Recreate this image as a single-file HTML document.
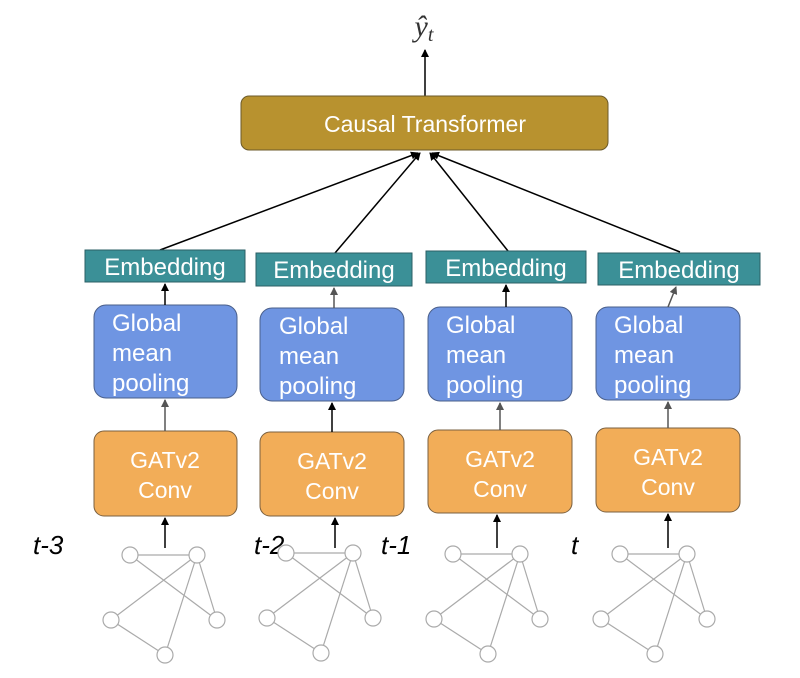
<!DOCTYPE html>
<html><head><style>
html,body{margin:0;padding:0;background:#fff;}
svg{display:block;font-family:"Liberation Sans",sans-serif;}
</style></head><body>
<svg width="800" height="678" viewBox="0 0 800 678" xmlns="http://www.w3.org/2000/svg">
<defs>
<marker id="a" markerWidth="8" markerHeight="8" refX="7" refY="4" orient="auto" markerUnits="userSpaceOnUse"><path d="M0,0 L8,4 L0,8 z" fill="#000"/></marker>
<marker id="g" markerWidth="8" markerHeight="8" refX="7" refY="4" orient="auto" markerUnits="userSpaceOnUse"><path d="M0,0 L8,4 L0,8 z" fill="#555"/></marker>
</defs>
<text x="424" y="36" font-family="Liberation Serif,serif" font-style="italic" font-size="30" fill="#333" text-anchor="middle">ŷ<tspan font-size="20" dy="5">t</tspan></text>
<line x1="425" y1="96" x2="425" y2="50" stroke="#000" stroke-width="1.5" marker-end="url(#a)"/>
<rect x="241" y="96" width="367" height="54" rx="8" fill="#b8922f" stroke="#6b5a2a" stroke-width="1"/>
<text x="425" y="132" font-size="23" fill="#fff" text-anchor="middle">Causal Transformer</text>
<g stroke="#000" stroke-width="1.5" fill="none">
<line x1="160" y1="250" x2="418" y2="153" marker-end="url(#a)"/>
<line x1="335" y1="253" x2="420" y2="153" marker-end="url(#a)"/>
<line x1="508" y1="251" x2="430" y2="153" marker-end="url(#a)"/>
<line x1="680" y1="252" x2="432" y2="153" marker-end="url(#a)"/>
</g>
<g fill="#3b9097" stroke="#2b5f66" stroke-width="1">
<rect x="85" y="250" width="160" height="32"/>
<rect x="256" y="253" width="156" height="33"/>
<rect x="426" y="251" width="160" height="32"/>
<rect x="598" y="253" width="162" height="32"/>
</g>
<g font-size="24" fill="#fff" text-anchor="middle">
<text x="165" y="275">Embedding</text>
<text x="334" y="278">Embedding</text>
<text x="506" y="276">Embedding</text>
<text x="679" y="278">Embedding</text>
</g>
<g fill="#6f95e2" stroke="#4a5f8a" stroke-width="1">
<rect x="94" y="305" width="143" height="93" rx="12"/>
<rect x="260" y="308" width="144" height="93" rx="12"/>
<rect x="428" y="307" width="144" height="94" rx="12"/>
<rect x="596" y="307" width="144" height="93" rx="12"/>
</g>
<g font-size="24" fill="#fff">
<text x="112" y="331">Global</text><text x="112" y="361">mean</text><text x="112" y="391">pooling</text>
<text x="279" y="334">Global</text><text x="279" y="364">mean</text><text x="279" y="394">pooling</text>
<text x="446" y="333">Global</text><text x="446" y="363">mean</text><text x="446" y="393">pooling</text>
<text x="614" y="333">Global</text><text x="614" y="363">mean</text><text x="614" y="393">pooling</text>
</g>
<g fill="#f2ad58" stroke="#7a6040" stroke-width="1">
<rect x="94" y="431" width="143" height="85" rx="10"/>
<rect x="260" y="432" width="144" height="84" rx="10"/>
<rect x="428" y="430" width="144" height="83" rx="10"/>
<rect x="596" y="428" width="144" height="84" rx="10"/>
</g>
<g font-size="23" fill="#fff" text-anchor="middle">
<text x="165" y="468">GATv2</text><text x="165" y="498">Conv</text>
<text x="332" y="469">GATv2</text><text x="332" y="499">Conv</text>
<text x="500" y="467">GATv2</text><text x="500" y="497">Conv</text>
<text x="668" y="465">GATv2</text><text x="668" y="495">Conv</text>
</g>
<g stroke-width="1.5">
<line x1="165" y1="305" x2="165" y2="284" stroke="#000" marker-end="url(#a)"/>
<line x1="334" y1="308" x2="334" y2="288" stroke="#555" marker-end="url(#g)"/>
<line x1="506" y1="307" x2="506" y2="285" stroke="#000" marker-end="url(#a)"/>
<line x1="668" y1="307" x2="676" y2="287" stroke="#555" marker-end="url(#g)"/>
<line x1="165" y1="431" x2="165" y2="400" stroke="#555" marker-end="url(#g)"/>
<line x1="332" y1="432" x2="332" y2="403" stroke="#000" marker-end="url(#a)"/>
<line x1="500" y1="430" x2="500" y2="403" stroke="#555" marker-end="url(#g)"/>
<line x1="668" y1="428" x2="668" y2="402" stroke="#555" marker-end="url(#g)"/>
<line x1="165" y1="548" x2="165" y2="518" stroke="#000" marker-end="url(#a)"/>
<line x1="335" y1="548" x2="335" y2="518" stroke="#000" marker-end="url(#a)"/>
<line x1="497" y1="548" x2="497" y2="515" stroke="#000" marker-end="url(#a)"/>
<line x1="668" y1="548" x2="668" y2="514" stroke="#000" marker-end="url(#a)"/>
</g>
<g font-size="26" font-style="italic" fill="#000">
<text x="33" y="554">t-3</text>
<text x="254" y="554">t-2</text>
<text x="381" y="554">t-1</text>
<text x="571" y="554">t</text>
</g>
<g id="gr" stroke="#aaa" stroke-width="1.2" fill="#fff">
<line x1="130" y1="555" x2="197" y2="555"/>
<line x1="130" y1="555" x2="217" y2="620"/>
<line x1="197" y1="555" x2="111" y2="620"/>
<line x1="197" y1="555" x2="165" y2="655"/>
<line x1="197" y1="555" x2="217" y2="620"/>
<line x1="111" y1="620" x2="165" y2="655"/>
<circle cx="130" cy="555" r="8"/>
<circle cx="197" cy="555" r="8"/>
<circle cx="111" cy="620" r="8"/>
<circle cx="217" cy="620" r="8"/>
<circle cx="165" cy="655" r="8"/>
</g>
<use href="#gr" transform="translate(156,-2)"/>
<use href="#gr" transform="translate(323,-1)"/>
<use href="#gr" transform="translate(490,-1)"/>
</svg>
</body></html>
